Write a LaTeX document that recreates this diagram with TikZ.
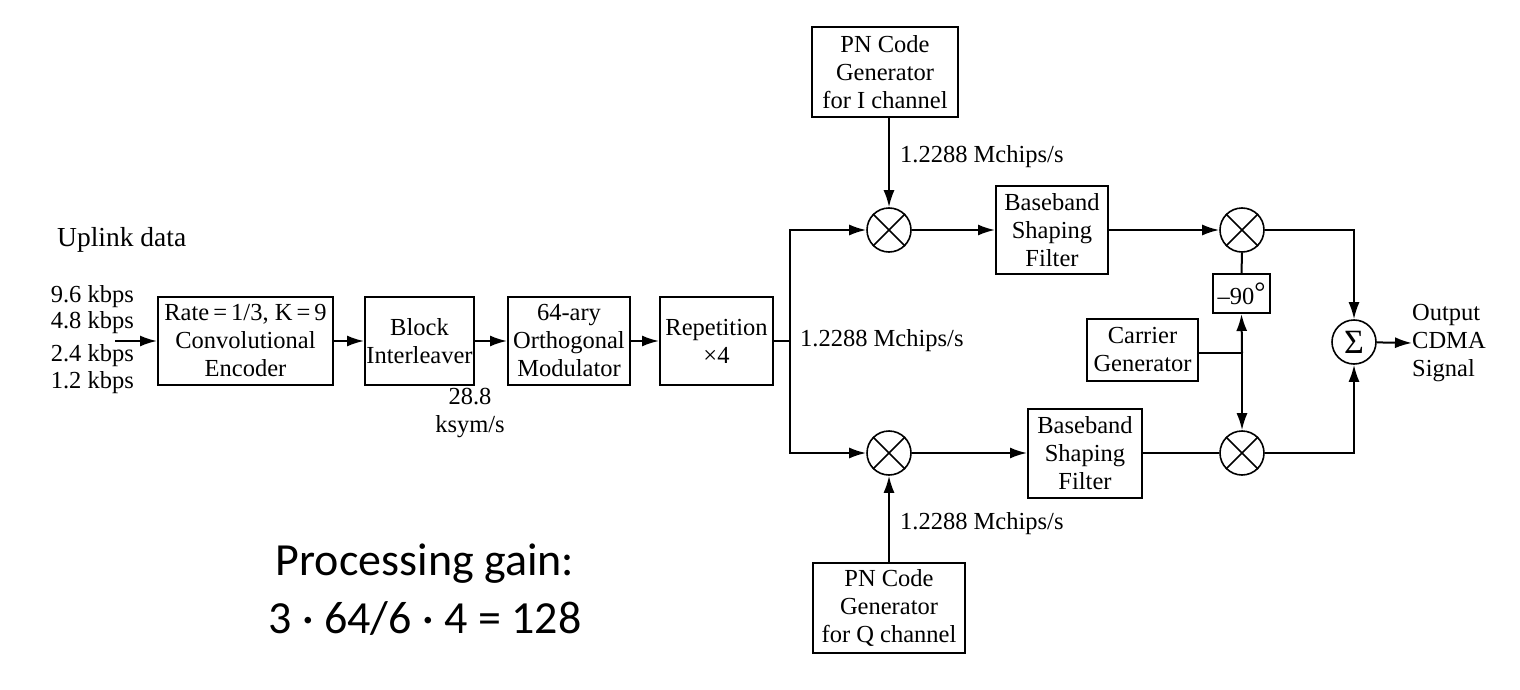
\documentclass[tikz,border=0pt]{standalone}
\usepackage{fontspec}
\setmainfont{Liberation Serif}
\newfontfamily\califont{Carlito}
\usetikzlibrary{arrows.meta,calc}
\tikzset{
  base/.style={font=\fontsize{24.5}{28}\selectfont},
  blk/.style={base,draw,line width=2pt,align=center,inner sep=0pt},
  mult/.style={draw,circle,line width=1.6pt,minimum size=44pt,inner sep=0pt},
  lbl/.style={base,inner sep=0pt,align=center},
  arr/.style={line width=2pt,-{Latex[length=17pt,width=11pt]}},
  ln/.style={line width=2pt},
  pg/.style={inner sep=0pt,font=\califont\fontsize{46}{52}\selectfont},
}
\begin{document}
\begin{tikzpicture}[x=1pt,y=-1pt]
\useasboundingbox (0,0) rectangle (1520,690);
% blocks
\node[blk,minimum width=175pt,minimum height=88pt] (enc) at (245.5,341) {Rate\,=\,1/3, K\,=\,9\\Convolutional\\Encoder};
\node[blk,minimum width=109pt,minimum height=88pt] (intl) at (419.5,341) {Block\\Interleaver};
\node[blk,minimum width=122pt,minimum height=88pt] (mod) at (569,341) {64-ary\\Orthogonal\\Modulator};
\node[blk,minimum width=113pt,minimum height=88pt] (rep) at (716.5,341) {Repetition\\×4};
\node[blk,minimum width=146pt,minimum height=90pt] (pnI) at (885,72.5) {PN Code\\Generator\\for I channel};
\node[blk,minimum width=112pt,minimum height=88pt] (bbI) at (1052,230) {Baseband\\Shaping\\Filter};
\node[blk,minimum width=114pt,minimum height=89pt] (bbQ) at (1085,453) {Baseband\\Shaping\\Filter};
\node[blk,minimum width=152pt,minimum height=90pt] (pnQ) at (889,608) {PN Code\\Generator\\for Q channel};
\node[blk,minimum width=111pt,minimum height=62pt] (carr) at (1142.5,350) {Carrier\\Generator};
\node[blk,minimum width=57pt,minimum height=39pt] (ph) at (1241.5,293.5) {–90\raisebox{0.25ex}{\fontsize{28}{28}\selectfont °}};
% multipliers
\node[mult] (m1) at (889,230) {};
\node[mult] (m2) at (889,453) {};
\node[mult] (m3) at (1242,230) {};
\node[mult] (m4) at (1242,453) {};
\foreach \m in {m1,m2,m3,m4}{
  \draw[line width=1.6pt] (\m.north west) -- (\m.south east);
  \draw[line width=1.6pt] (\m.north east) -- (\m.south west);
}
\node[mult,font=\fontsize{34}{34}\selectfont] (sum) at (1354,342) {Σ};
% labels
\node[lbl,anchor=west,font=\fontsize{27.5}{30}\selectfont] (up) at (57,240) {Uplink data};
\node[lbl,anchor=east] (r1) at (134,297) {9.6 kbps};
\node[lbl,anchor=east] (r2) at (134,323) {4.8 kbps};
\node[lbl,anchor=east] (r3) at (134,356) {2.4 kbps};
\node[lbl,anchor=east] (r4) at (134,383) {1.2 kbps};
\node[lbl,anchor=north] (ks) at (470,388) {28.8\\ksym/s};
\node[lbl,anchor=west] (mc) at (800,341) {1.2288 Mchips/s};
\node[lbl,anchor=west] (mcI) at (900,157) {1.2288 Mchips/s};
\node[lbl,anchor=west] (mcQ) at (900,524) {1.2288 Mchips/s};
\node[lbl,anchor=west,align=left] (out) at (1412,343) {Output\\CDMA\\Signal};
\node[pg] (pg1) at (425,564) {Processing gain:};
\node[pg] (pg2) at (425,619) {3 · 64/6 · 4 = 128};
% connectors
\coordinate (in) at (115,341);
\coordinate (split) at (790,341);
\coordinate (jn) at (1242,353);
\draw[arr] (in) -- (enc);
\draw[arr] (enc) -- (intl);
\draw[arr] (intl) -- (mod);
\draw[arr] (mod) -- (rep);
\draw[ln] (rep.east) -- (split);
\draw[arr] (split) |- (m1);
\draw[arr] (split) |- (m2);
\draw[arr] (m1 |- pnI.south) -- (m1.north);
\draw[arr] (pnQ) -- (m2);
\draw[arr] (m1) -- (bbI);
\draw[arr] (m2) -- (bbQ);
\draw[arr] (bbI) -- (m3);
\draw[ln] (bbQ) -- (m4);
\draw[ln] (m3.south) -- (ph.north);
\draw[ln] (carr.east |- jn) -- (jn);
\draw[arr] (jn) -- (ph.south);
\draw[arr] (jn) -- (m4.north);
\draw[arr] (m3) -| (sum);
\draw[arr] (m4) -| (sum);
\draw[arr] (sum) -- (out.west);
\end{tikzpicture}
\end{document}
